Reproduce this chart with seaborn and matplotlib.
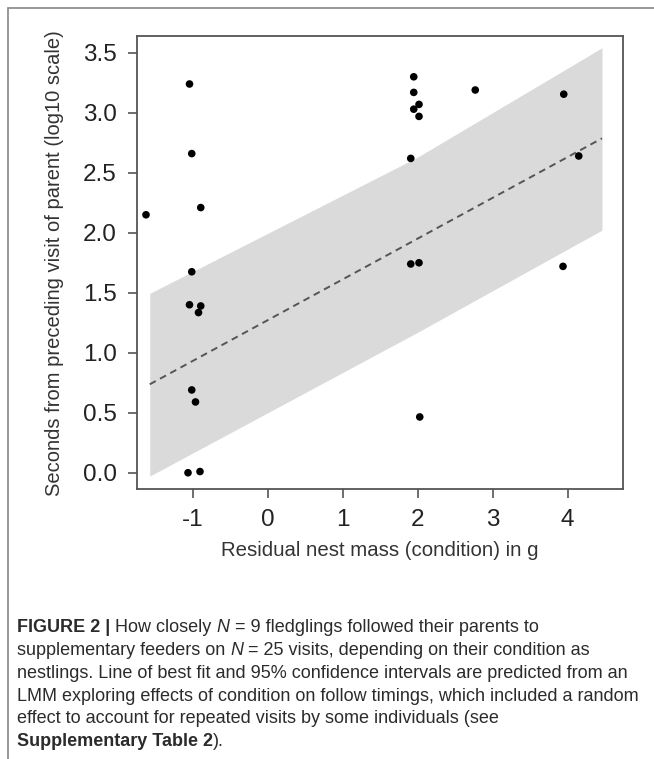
import matplotlib
matplotlib.use("Agg")
import matplotlib.pyplot as plt
from matplotlib.lines import Line2D
import seaborn as sns
import pandas as pd

# residual nest mass (g) and log10 seconds behind the parent, one per visit
condition = [-1.04, -1.01, -0.89, -1.62, -1.01, -1.04, -0.89, -0.92, -1.01,
             -0.96, -1.06, -0.90, 1.95, 1.95, 2.02, 1.95, 2.02, 2.77, 3.95,
             1.91, 4.15, 1.91, 2.02, 3.94, 2.03]
follow_time = [3.24, 2.66, 2.21, 2.15, 1.675, 1.40, 1.39, 1.335, 0.69,
               0.59, 0.0, 0.01, 3.30, 3.17, 3.07, 3.03, 2.97, 3.19, 3.155,
               2.62, 2.64, 1.74, 1.75, 1.72, 0.465]

# fitted line and 95% CI band from the LMM
fit_x = [-1.57, 4.46]
fit_y = [0.737, 2.787]
ci_x = [-1.57, 2.0, 4.46]
ci_upper = [1.495, 2.63, 3.542]
ci_lower = [-0.028, 1.17, 2.022]

x_ticks = [-1, 0, 1, 2, 3, 4]
y_ticks = [0.0, 0.5, 1.0, 1.5, 2.0, 2.5, 3.0, 3.5]

caption = [
    [("FIGURE 2 |", "bold"), (" How closely ", "normal"), ("N", "italic"),
     (" = 9 fledglings followed their parents to", "normal")],
    [("supplementary feeders on ", "normal"), ("N", "italic"),
     (" = 25 visits, depending on their condition as", "normal")],
    [("nestlings. Line of best fit and 95% confidence intervals are "
      "predicted from an", "normal")],
    [("LMM exploring effects of condition on follow timings, which "
      "included a random", "normal")],
    [("effect to account for repeated visits by some individuals (see",
      "normal")],
    [("Supplementary Table 2", "bold"), (").", "normal")],
]

sns.set_theme(style="white")
plt.rcParams["font.family"] = ["Liberation Sans", "DejaVu Sans"]

W, H = 654, 759
fig = plt.figure(figsize=(W / 100, H / 100), dpi=100)
ax = fig.add_axes([136.7 / W, 1 - 489.3 / H, 486.6 / W, 453.3 / H])

df = pd.DataFrame({"condition": condition, "follow_time": follow_time})
fit = pd.DataFrame({"x": fit_x, "y": fit_y})

ax.fill_between(ci_x, ci_lower, ci_upper, color="#dadada", lw=0, zorder=1)
sns.lineplot(data=fit, x="x", y="y", ax=ax, color="#555555", lw=1.4,
             dashes=False, linestyle=(0, (3.5, 2.5)), zorder=2)
sns.scatterplot(data=df, x="condition", y="follow_time", ax=ax,
                color="black", s=30, edgecolor="none", zorder=3)

ax.set_xlim(-1.744, 4.744)
ax.set_ylim(-0.138, 3.64)
ax.set_xticks(x_ticks)
ax.set_xticklabels([str(t) for t in x_ticks])
ax.set_yticks(y_ticks)
ax.set_yticklabels([f"{t:.1f}" for t in y_ticks])

for s in ax.spines.values():
    s.set_color("#555555")
    s.set_linewidth(1.3)
ax.tick_params(axis="both", direction="out", length=6.5, width=1.2,
               color="#555555", labelsize=17.5, labelcolor="#222222", pad=8,
               bottom=True, left=True)

ax.set_xlabel("Residual nest mass (condition) in g", fontsize=14.7,
              color="#333333")
ax.set_ylabel("Seconds from preceding visit of parent (log10 scale)",
              fontsize=14.5, color="#333333")
ax.xaxis.set_label_coords(0.5, -0.134)
ax.xaxis.label.set_va("center")
ax.yaxis.set_label_coords(-0.168, 0.5)
ax.yaxis.label.set_va("center")

# outer frame of the figure panel
fig.add_artist(Line2D([7.5 / W, 7.5 / W], [0, 1 - 7.5 / H],
                      transform=fig.transFigure, color="#888888", lw=1.2))
fig.add_artist(Line2D([7.5 / W, 1], [1 - 7.5 / H, 1 - 7.5 / H],
                      transform=fig.transFigure, color="#888888", lw=1.2))

# caption, laid out run by run
renderer = fig.canvas.get_renderer()
y0 = 628
for i, line in enumerate(caption):
    x = 17
    y = y0 + i * 22.7
    for txt, style in line:
        kw = {"fontweight": "bold"} if style == "bold" else {}
        if style == "italic":
            kw = {"fontstyle": "italic"}
        t = fig.text(x / W, 1 - y / H, txt, fontsize=13, color="#2b2b2b",
                     va="center", ha="left", **kw)
        x += t.get_window_extent(renderer).width

fig.savefig("out.png", dpi=100)
